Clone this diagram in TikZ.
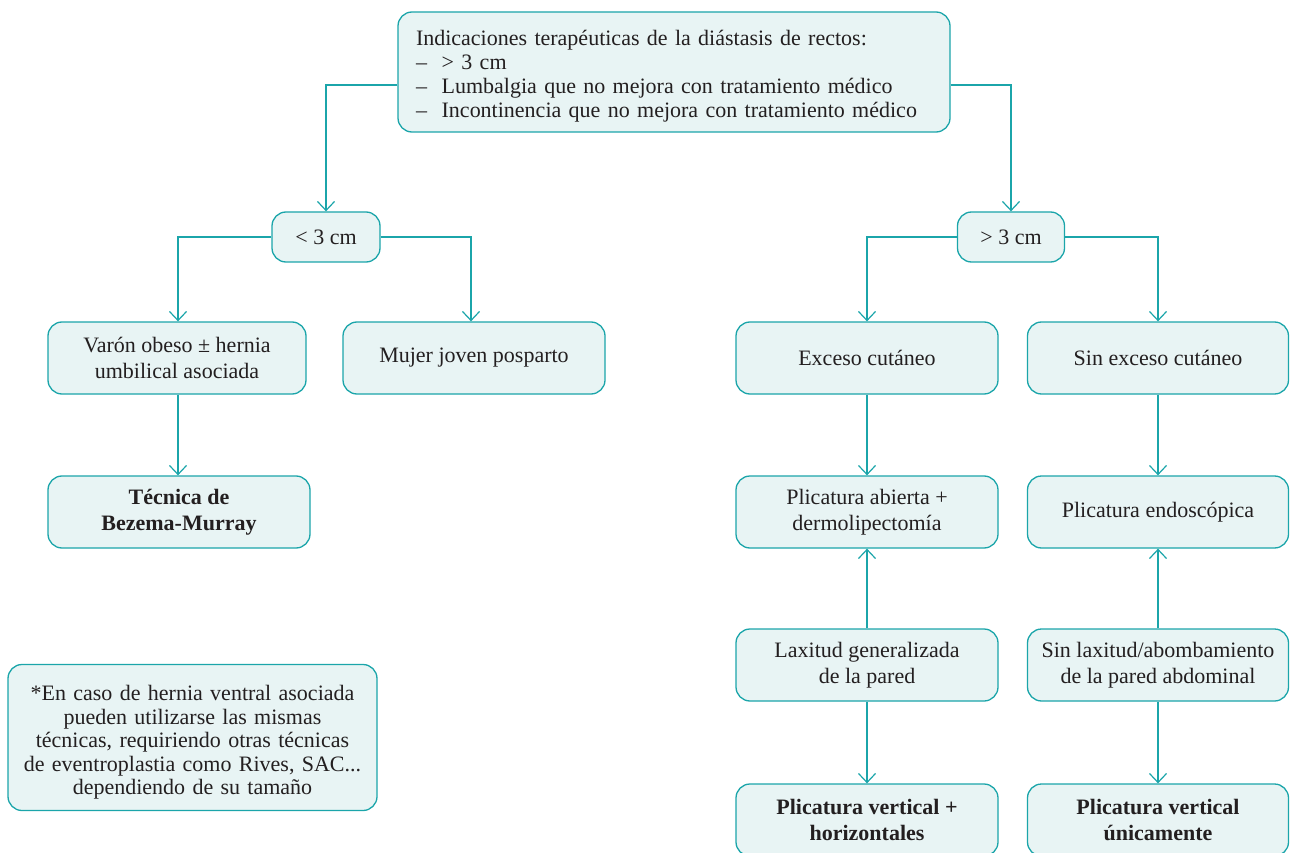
\documentclass[tikz,border=0pt]{standalone}
\usepackage{fontspec}
\setmainfont{Liberation Serif}
\usetikzlibrary{arrows.meta}
\definecolor{teal1}{RGB}{27,165,170}
\definecolor{fill1}{RGB}{232,244,244}
\definecolor{txt}{RGB}{35,31,32}
\begin{document}
\begin{tikzpicture}[x=1pt,y=-1pt,
  box/.style={draw=teal1,fill=fill1,line width=1.3pt,rounded corners=14pt,
    minimum height=72pt,align=center,text=txt,inner sep=2pt,
    font=\fontsize{22}{26}\selectfont},
  arr/.style={draw=teal1,line width=1.2pt,-{Straight Barb[length=9pt,width=17pt,line width=1.2pt]}}]
\useasboundingbox (0,0) rectangle (1291,853);
\node[box,minimum width=552pt,minimum height=120pt,text width=516pt,align=left,
  font=\fontsize{22}{24}\selectfont] (top) at (674,72)
  {\rule{0pt}{23pt}Indicaciones terapéuticas de la diástasis de rectos:\\
   –\ \ > 3 cm\\
   –\ \ Lumbalgia que no mejora con tratamiento médico\\
   –\ \ Incontinencia que no mejora con tratamiento médico};
\node[box,minimum width=108pt,minimum height=50pt] (lt) at (326,237) {< 3 cm};
\node[box,minimum width=107pt,minimum height=50pt] (gt) at (1011,237) {> 3 cm};
\node[box,minimum width=258pt] (varon) at (177,358) {Varón obeso ± hernia\\umbilical asociada};
\node[box,minimum width=262pt] (mujer) at (474,358) {Mujer joven posparto};
\node[box,minimum width=262pt] (tecnica) at (179,512) {\bfseries Técnica de\\\bfseries Bezema-Murray};
\node[box,minimum width=369pt,minimum height=146pt,text width=360pt,
  font=\fontsize{22}{23.5}\selectfont] (nota) at (192.5,737.5)
  {\rule{0pt}{25pt}*En caso de hernia ventral asociada\\pueden utilizarse las mismas\\técnicas, requiriendo otras técnicas\\de eventroplastia como Rives, SAC...\\dependiendo de su tamaño};
\node[box,minimum width=262pt] (exceso) at (867,358) {Exceso cutáneo};
\node[box,minimum width=261pt] (sinexceso) at (1158,358) {Sin exceso cutáneo};
\node[box,minimum width=262pt] (plicab) at (867,512) {Plicatura abierta +\\dermolipectomía};
\node[box,minimum width=261pt] (plicendo) at (1158,512) {Plicatura endoscópica};
\node[box,minimum width=262pt] (laxitud) at (867,665) {Laxitud generalizada\\de la pared};
\node[box,minimum width=261pt] (sinlax) at (1158,665) {Sin laxitud/abombamiento\\de la pared abdominal};
\node[box,minimum width=262pt] (vh) at (867,820) {\bfseries Plicatura vertical +\\\bfseries horizontales};
\node[box,minimum width=261pt] (vu) at (1158,820) {\bfseries Plicatura vertical\\\bfseries únicamente};
\draw[arr] ([yshift=-13pt]top.west) -| (lt.north);
\draw[arr] ([yshift=-13pt]top.east) -| (gt.north);
\draw[arr] (lt.west) -| ([xshift=1pt]varon.north);
\draw[arr] (lt.east) -| ([xshift=-3pt]mujer.north);
\draw[arr] (gt.west) -| (exceso.north);
\draw[arr] (gt.east) -| (sinexceso.north);
\draw[arr] ([xshift=1pt]varon.south) -- ([xshift=1pt]varon.south |- tecnica.north);
\draw[arr] (exceso.south) -- (plicab.north);
\draw[arr] (sinexceso.south) -- (plicendo.north);
\draw[arr] (laxitud.north) -- (plicab.south);
\draw[arr] (laxitud.south) -- (vh.north);
\draw[arr] (sinlax.north) -- (plicendo.south);
\draw[arr] (sinlax.south) -- (vu.north);
\end{tikzpicture}
\end{document}
